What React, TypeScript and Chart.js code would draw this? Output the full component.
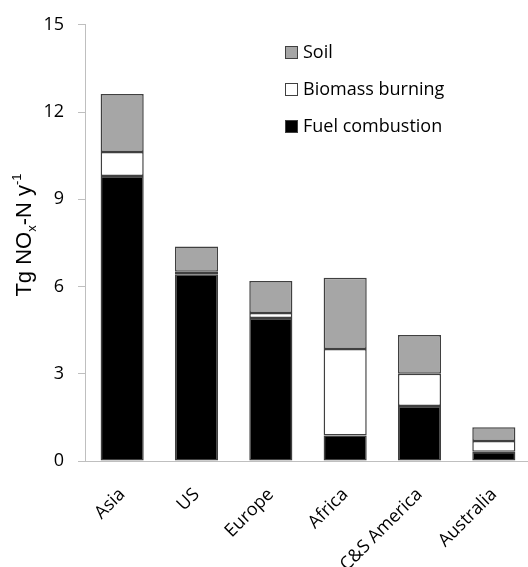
import React, { useEffect, useRef } from "react";
import { Chart, registerables } from "chart.js";

Chart.register(...registerables);

const regions = ["Asia", "US", "Europe", "Africa", "C&S America", "Australia"];
const fuelCombustion = [9.8, 6.42, 4.92, 0.88, 1.89, 0.32];
const biomassBurning = [0.83, 0.09, 0.17, 2.97, 1.11, 0.37];
const soil = [1.99, 0.87, 1.1, 2.45, 1.33, 0.47];
const yMin = 0;
const yMax = 15;
const yStep = 3;

const seriesNames = ["Fuel combustion", "Biomass burning", "Soil"];

const TICK_FONT = { family: '"Open Sans", sans-serif', size: 18 };

const yTitlePlugin = {
  id: "yTitle",
  afterDraw(chart: any) {
    const ctx = chart.ctx as CanvasRenderingContext2D;
    const big = '22px "Liberation Sans", Arial, sans-serif';
    const small = '13px "Liberation Sans", Arial, sans-serif';
    const parts = [
      { t: "Tg NO", f: big, dy: 0 },
      { t: "x", f: small, dy: 5 },
      { t: "-N y", f: big, dy: 0 },
      { t: "-1", f: small, dy: -10 },
    ];
    ctx.save();
    let total = 0;
    for (const p of parts) {
      ctx.font = p.f;
      total += ctx.measureText(p.t).width;
    }
    const cy = 235;
    ctx.translate(31, cy + total / 2);
    ctx.rotate(-Math.PI / 2);
    ctx.fillStyle = "#000";
    ctx.textAlign = "left";
    ctx.textBaseline = "alphabetic";
    let x = 0;
    for (const p of parts) {
      ctx.font = p.f;
      ctx.fillText(p.t, x, p.dy);
      x += ctx.measureText(p.t).width;
    }
    ctx.restore();
  },
};

const legendPlugin = {
  id: "customLegend",
  afterDraw(chart: any) {
    const ctx = chart.ctx as CanvasRenderingContext2D;
    const ds = chart.data.datasets;
    const order = [2, 1, 0];
    ctx.save();
    ctx.font = '18px "Open Sans", sans-serif';
    ctx.textBaseline = "middle";
    ctx.textAlign = "left";
    order.forEach((idx, row) => {
      const d = ds[idx];
      const cy = 53 + row * 37;
      ctx.fillStyle = d.backgroundColor;
      ctx.fillRect(285.5, cy - 6.5, 12, 12);
      ctx.strokeStyle = d.borderColor;
      ctx.lineWidth = 1;
      ctx.strokeRect(285.5, cy - 6.5, 12, 12);
      ctx.fillStyle = "#000";
      ctx.fillText(d.label, 303, cy);
    });
    ctx.restore();
  },
};

export default function App() {
  const canvasRef = useRef<HTMLCanvasElement | null>(null);

  useEffect(() => {
    if (!canvasRef.current) return;
    const chart = new Chart(canvasRef.current, {
      type: "bar",
      data: {
        labels: regions,
        datasets: [
          {
            label: seriesNames[0],
            data: fuelCombustion,
            backgroundColor: "#000000",
            borderColor: "#404040",
            borderWidth: 1.5,
            borderSkipped: false,
          },
          {
            label: seriesNames[1],
            data: biomassBurning,
            backgroundColor: "#ffffff",
            borderColor: "#404040",
            borderWidth: 1.5,
            borderSkipped: false,
          },
          {
            label: seriesNames[2],
            data: soil,
            backgroundColor: "#a6a6a6",
            borderColor: "#404040",
            borderWidth: 1.5,
            borderSkipped: false,
          },
        ],
      },
      options: {
        responsive: false,
        animation: false,
        devicePixelRatio: 1,
        layout: { padding: { left: 0, top: 23, right: 5, bottom: 0 } },
        plugins: {
          legend: { display: false },
          tooltip: { enabled: false },
        },
        datasets: {
          bar: { barPercentage: 0.58, categoryPercentage: 1 },
        },
        scales: {
          x: {
            stacked: true,
            grid: { display: false },
            border: { display: true, color: "#bfbfbf", width: 1 },
            ticks: {
              font: TICK_FONT,
              color: "#000",
              maxRotation: 45,
              minRotation: 45,
              padding: 15,
            },
            afterFit(scale: any) {
              scale.height = 106;
            },
          },
          y: {
            stacked: true,
            min: yMin,
            max: yMax,
            grid: {
              display: true,
              drawOnChartArea: false,
              drawTicks: true,
              tickLength: 7,
              color: "#bfbfbf",
            },
            border: { display: true, color: "#bfbfbf", width: 1 },
            ticks: {
              stepSize: yStep,
              font: TICK_FONT,
              color: "#000",
              padding: 14,
            },
            afterFit(scale: any) {
              scale.width = 85;
            },
          },
        },
      },
      plugins: [yTitlePlugin, legendPlugin],
    });
    return () => chart.destroy();
  }, []);

  return (
    <div
      style={{
        position: "fixed",
        left: 0,
        top: 0,
        width: 528,
        height: 567,
        overflow: "hidden",
        background: "#fff",
      }}
    >
      <canvas ref={canvasRef} width={536} height={567} style={{ display: "block" }} />
    </div>
  );
}
